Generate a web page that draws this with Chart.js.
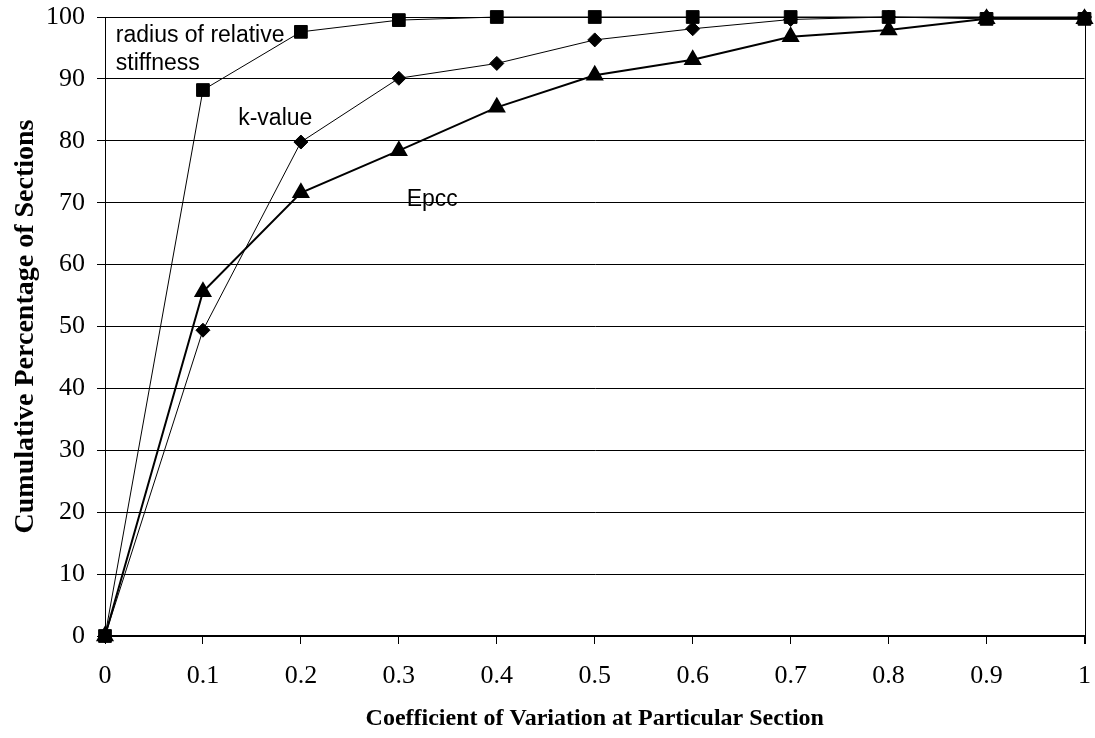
<!DOCTYPE html>
<html>
<head>
<meta charset="utf-8">
<script src="https://cdn.jsdelivr.net/npm/chart.js@4.4.1/dist/chart.umd.min.js"></script>
<style>
html,body{margin:0;padding:0;background:#fff;}
#wrap{width:1095px;height:738px;position:relative;}
</style>
</head>
<body>
<div id="wrap"><canvas id="c" width="1095" height="738"></canvas></div>
<script>
const xValues = [0, 0.1, 0.2, 0.3, 0.4, 0.5, 0.6, 0.7, 0.8, 0.9, 1.0];
const radiusValues = [0, 88.2, 97.6, 99.5, 100, 100, 100, 100, 100, 99.7, 99.7];
const kValues = [0, 49.4, 79.8, 90.1, 92.5, 96.3, 98.1, 99.6, 100, 100, 100];
const epccValues = [0, 55.6, 71.6, 78.4, 85.4, 90.6, 93.1, 96.8, 97.9, 99.7, 99.7];
const xTickLabels = ['0','0.1','0.2','0.3','0.4','0.5','0.6','0.7','0.8','0.9','1'];
const yTickLabels = ['0','10','20','30','40','50','60','70','80','90','100'];
const annotations = [
  {lines: ['radius of relative', 'stiffness'], x: 0.011, y: 96.95},
  {lines: ['k-value'], x: 0.136, y: 83.6},
  {lines: ['Epcc'], x: 0.308, y: 70.5}
];

const pts = arr => xValues.map((x, i) => ({x: x, y: arr[i]}));

const annotPlugin = {
  id: 'annot',
  afterDatasetsDraw(chart) {
    const ctx = chart.ctx;
    const xs = chart.scales.x, ys = chart.scales.y;
    ctx.save();
    ctx.fillStyle = '#000';
    ctx.font = '23px "Liberation Sans", Arial, sans-serif';
    ctx.textAlign = 'left';
    ctx.textBaseline = 'middle';
    const step = ys.getPixelForValue(0) - ys.getPixelForValue(4.52);
    annotations.forEach(a => {
      const px = xs.getPixelForValue(a.x);
      const py = ys.getPixelForValue(a.y);
      a.lines.forEach((l, i) => ctx.fillText(l, px, py + i * step));
    });
    ctx.restore();
  }
};

const borderPlugin = {
  id: 'rborder',
  beforeDatasetsDraw(chart) {
    const {ctx, chartArea} = chart;
    ctx.save();
    ctx.strokeStyle = '#000';
    ctx.lineWidth = 1;
    ctx.beginPath();
    const x = Math.round(chartArea.right) + 0.5;
    ctx.moveTo(x, chartArea.top);
    ctx.lineTo(x, chartArea.bottom + 8);
    ctx.stroke();
    ctx.restore();
  }
};

const serif = '"Liberation Serif", "Times New Roman", serif';

new Chart(document.getElementById('c'), {
  type: 'scatter',
  data: {
    datasets: [
      {label: 'radius of relative stiffness', data: pts(radiusValues), showLine: true, clip: false,
       borderColor: '#000', backgroundColor: '#000', borderWidth: 1,
       pointStyle: 'rect', pointRadius: 9, pointHoverRadius: 9},
      {label: 'k-value', data: pts(kValues), showLine: true, clip: false,
       borderColor: '#000', backgroundColor: '#000', borderWidth: 1,
       pointStyle: 'rectRot', pointRadius: 7, pointHoverRadius: 7},
      {label: 'Epcc', data: pts(epccValues), showLine: true, clip: false,
       borderColor: '#000', backgroundColor: '#000', borderWidth: 2,
       pointStyle: 'triangle', pointRadius: 8.5, pointHoverRadius: 8.5}
    ]
  },
  options: {
    responsive: false,
    animation: false,
    events: [],
    layout: {padding: {top: 17, right: 9, left: 0, bottom: 0}},
    plugins: {legend: {display: false}, tooltip: {enabled: false}},
    scales: {
      x: {
        type: 'linear', min: 0, max: 1,
        afterFit(s) { s.height = 102; s.paddingLeft = 0; s.paddingRight = 0; },
        afterBuildTicks(s) { s.ticks = xValues.map(v => ({value: v})); },
        ticks: {
          callback: (v, i) => xTickLabels[i],
          font: {family: serif, size: 26},
          color: '#000', padding: 17, maxRotation: 0, autoSkip: false
        },
        grid: {drawOnChartArea: false, drawTicks: true, tickLength: 8, color: '#000', lineWidth: 1},
        border: {display: true, color: '#000', width: 2},
        title: {display: true, text: 'Coefficient of Variation at Particular Section',
          font: {family: serif, size: 24, weight: 'bold'},
          color: '#000', padding: {top: 0, bottom: 5}}
      },
      y: {
        type: 'linear', min: 0, max: 100,
        afterFit(s) { s.width = 105; s.paddingTop = 0; s.paddingBottom = 0; },
        afterBuildTicks(s) { s.ticks = yTickLabels.map(v => ({value: Number(v)})); },
        ticks: {
          callback: (v, i) => yTickLabels[i],
          font: {family: serif, size: 26},
          color: '#000', padding: 12, autoSkip: false
        },
        grid: {drawOnChartArea: true, drawTicks: true, tickLength: 8, color: '#000', lineWidth: 1},
        border: {display: true, color: '#000', width: 1},
        title: {display: true, text: 'Cumulative Percentage of Sections',
          font: {family: serif, size: 28, weight: 'bold'},
          color: '#000', padding: {top: 9, bottom: 0}}
      }
    }
  },
  plugins: [annotPlugin, borderPlugin]
});
</script>
</body>
</html>
